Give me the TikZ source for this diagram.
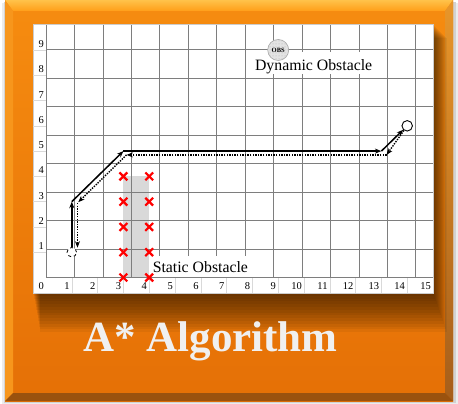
\documentclass[tikz,border=0pt]{standalone}
\usepackage{fontspec}
\setmainfont{Liberation Serif}
\usetikzlibrary{arrows.meta,patterns}
\definecolor{facetop}{HTML}{F68C10}
\definecolor{facebot}{HTML}{E57006}
\definecolor{bevtopA}{HTML}{FFC24A}
\definecolor{bevtopB}{HTML}{FF9E18}
\definecolor{bevleft}{HTML}{F7961C}
\definecolor{bevrightA}{HTML}{E8962A}
\definecolor{bevrightB}{HTML}{A65E1A}
\definecolor{bevbot}{HTML}{9A520E}
\definecolor{gridc}{HTML}{7E7E7E}
\definecolor{obsgray}{HTML}{D9D9D9}
\definecolor{titlec}{HTML}{F0F0F0}
\tikzset{
  gridline/.style={draw=gridc, line width=0.8pt},
  faint/.style={draw=gray!30, line width=0.6pt},
  axlab/.style={font=\fontsize{10.5}{12}\selectfont, inner sep=0pt},
  oblab/.style={font=\fontsize{15.8}{18}\selectfont, inner sep=0pt},
  xmk/.style={draw=red, line width=2.2pt},
  solidpath/.style={draw=black, line width=1.5pt, -{Stealth[length=6.5pt,width=5pt]}},
  dotpath/.style={draw=black, line width=1.4pt, dash pattern=on 1.4pt off 1.2pt, -{Stealth[length=6.5pt,width=5pt]}},
}
\begin{document}
\begin{tikzpicture}[x=1pt,y=-1pt]
\useasboundingbox (0,0) rectangle (458,404);
% outer soft shadow
\fill[gray!15] (2,3) rectangle (458,404);
\fill[gray!35] (4,2) rectangle (456,403);
% frame face
\shade[top color=facetop, bottom color=facebot] (5,0) rectangle (453,401);
% bevels
\shade[top color=bevtopA, bottom color=bevtopB] (5,0) -- (453,0) -- (445,11) -- (13,11) -- cycle;
\fill[bevleft] (5,0) -- (13,11) -- (13,393) -- (5,401) -- cycle;
\shade[top color=bevrightA, bottom color=bevrightB] (453,0) -- (453,401) -- (445,393) -- (445,11) -- cycle;
\fill[bevbot] (5,401) -- (13,393) -- (445,393) -- (453,401) -- cycle;
% panel shadow
\foreach \i in {1,...,14}
  \fill[black, opacity=0.05] (33+0.5*\i,24+\i) rectangle (433+1.0*\i,293+2.8*\i);
% panel
\fill[white] (33,24) rectangle (433,293);
\draw[gray!40, line width=0.6pt] (33,24) rectangle (433,293);
\begin{scope}[shift={(46pt,-277.5pt)},x=25.8pt,y=25.28pt]
  \foreach \i in {1,...,9} \draw[faint] (-0.504,\i) -- (0,\i);
  \foreach \i in {1,...,15} \draw[faint] (\i,0) -- (\i,-0.613);
  \fill[obsgray] (3,0) rectangle (4,4);
  \draw[gridline] (0,0) grid (15,10);
  % axis labels
  \foreach \n in {0,...,15} \node[axlab, anchor=base east] (xl\n) at (\n-0.078,-0.467) {\n};
  \foreach \n in {1,...,9} \node[axlab, anchor=base east] (yl\n) at (-0.078,\n+0.1) {\n};
  % label boxes
  \fill[white] (4.03,0.03) rectangle (7.92,0.84);
  \fill[white] (8.03,8.05) rectangle (12.8,8.93);
  \node[oblab, anchor=base west] (stat) at (4.13,0.19) {Static Obstacle};
  \node[oblab, anchor=base west] (dyn) at (8.095,8.17) {Dynamic Obstacle};
  % dynamic obstacle
  \node[circle, draw=gray!70, line width=0.6pt, fill=gray!22, minimum size=21pt, inner sep=0pt] (obsc) at (9,9) {};
  \fill[pattern=dots, pattern color=gray!60] (9,9) circle (10pt);
  \node[font=\fontsize{6.5}{7}\selectfont\bfseries, inner sep=0pt] (obst) at (9,9) {OBS};
  % static obstacle crosses
  \foreach \xx in {3,4} \foreach \yy in {0,...,4}
    \draw[xmk] (\xx,\yy) +(-3.9pt,-3.9pt) -- +(3.9pt,3.9pt) +(-3.9pt,3.9pt) -- +(3.9pt,-3.9pt);
  % start and goal
  \node[circle, draw=black, dashed, line width=0.8pt, fill=white, minimum size=9.5pt, inner sep=0pt] (s) at (1,1) {};
  \node[circle, draw=black, line width=0.9pt, fill=white, minimum size=10.5pt, inner sep=0pt] (g) at (14,6) {};
  \coordinate (p3) at (1,3);
  \coordinate (p5) at (3,5);
  \coordinate (p13) at (13,5);
  \coordinate (d1) at (13.2,4.85);
  \coordinate (d2) at (3.12,4.85);
  \coordinate (d3a) at (1.25,2.98);
  \coordinate (d3) at (1.22,2.95);
  \coordinate (d4) at (1.22,1.18);
  % solid forward path
  \draw[solidpath] (s) -- (p3);
  \draw[solidpath] (p3) -- (p5);
  \draw[solidpath] (p5) -- (p13);
  \draw[solidpath] (p13) -- (g);
  % dotted return path
  \draw[dotpath] (g) -- (d1);
  \draw[dotpath] (d1) -- (d2);
  \draw[dotpath] (d2) -- (d3a);
  \draw[dotpath] (d3) -- (d4);
\end{scope}
% title
\node[anchor=base, inner sep=0pt, text=titlec, font=\fontsize{43}{48}\selectfont\bfseries] (title) at (210.5,351.7) {A* Algorithm};
\end{tikzpicture}
\end{document}
